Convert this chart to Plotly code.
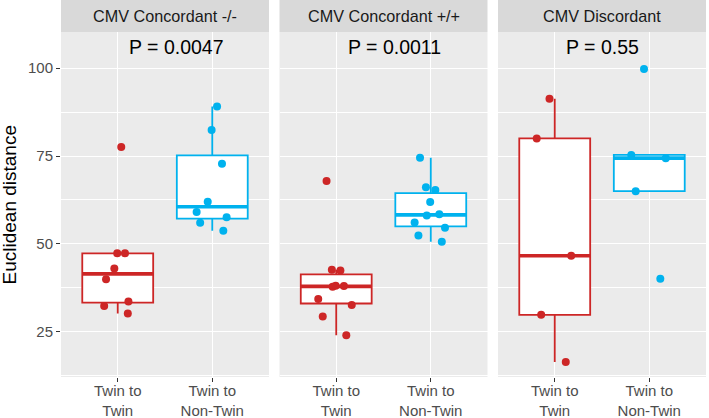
import numpy as np
import plotly.graph_objects as go
from plotly.subplots import make_subplots

# ---- data ----
panels = ["CMV Concordant -/-", "CMV Concordant +/+", "CMV Discordant"]
groups = ["Twin to<br>Twin", "Twin to<br>Non-Twin"]
p_labels = ["P = 0.0047", "P = 0.0011", "P = 0.55"]

neg_twin = [77.6, 47.3, 47.3, 43.0, 39.9, 33.6, 32.3, 30.2]
neg_nontwin = [89.1, 82.4, 72.8, 62.0, 59.1, 57.6, 56.0, 53.7]
pos_twin = [67.9, 42.6, 42.4, 38.1, 37.8, 38.0, 34.3, 32.6, 29.3, 24.0]
pos_nontwin = [74.5, 66.1, 65.3, 61.9, 58.4, 58.1, 56.1, 54.6, 52.4, 50.6]
disc_twin = [91.3, 80.0, 46.6, 29.8, 16.4]
disc_nontwin = [99.8, 75.3, 74.4, 65.0, 40.1]

panel_data = [[neg_twin, neg_nontwin], [pos_twin, pos_nontwin], [disc_twin, disc_nontwin]]
group_colors = ["#CD2626", "#00B2EE"]

y_ticks = [25, 50, 75, 100]

FONT = "Liberation Sans, Arial, sans-serif"
W, H = 709, 418
ML, MR, MT, MB = 61, 3, 32, 41
plot_w = W - ML - MR
plot_h = H - MT - MB
gap_px = 10.5
panel_w = (plot_w - 2 * gap_px) / 3

fig = make_subplots(rows=1, cols=3, shared_yaxes=True,
                    horizontal_spacing=gap_px / plot_w)

BOX_W = 0.75


def box_stats(v):
    a = np.array(v, dtype=float)
    q1, med, q3 = np.percentile(a, [25, 50, 75])
    iqr = q3 - q1
    lf = a[a >= q1 - 1.5 * iqr].min()
    uf = a[a <= q3 + 1.5 * iqr].max()
    return q1, med, q3, lf, uf


for pi, pdata in enumerate(panel_data):
    col = pi + 1
    for gi, vals in enumerate(pdata):
        c = group_colors[gi]
        q1, med, q3, lf, uf = box_stats(vals)
        fig.add_trace(go.Box(
            x=[gi], q1=[q1], median=[med], q3=[q3], lowerfence=[lf], upperfence=[uf],
            width=BOX_W, whiskerwidth=0, boxpoints=False,
            fillcolor="white", line=dict(color=c, width=1.8),
            showlegend=False, hoverinfo="skip"), row=1, col=col)
        # thick median line (ggplot fatten)
        fig.add_trace(go.Scatter(
            x=[gi - BOX_W / 2, gi + BOX_W / 2], y=[med, med], mode="lines",
            line=dict(color=c, width=3.6), showlegend=False, hoverinfo="skip"),
            row=1, col=col)
        # jittered points
        fig.add_trace(go.Box(
            x=[gi] * len(vals), y=vals, boxpoints="all", jitter=0.6, pointpos=0,
            width=BOX_W, fillcolor="rgba(0,0,0,0)",
            line=dict(color="rgba(0,0,0,0)", width=0),
            marker=dict(color=c, size=8, line=dict(width=0)),
            showlegend=False, hoverinfo="y"), row=1, col=col)

for pi in range(3):
    xa = "xaxis" if pi == 0 else f"xaxis{pi+1}"
    ya = "yaxis" if pi == 0 else f"yaxis{pi+1}"
    x0 = pi * (panel_w + gap_px) / plot_w
    x1 = (pi * (panel_w + gap_px) + panel_w) / plot_w
    fig.layout[xa].update(
        domain=[x0, x1], range=[-0.6, 1.6], tickmode="array", tickvals=[0, 1],
        ticktext=groups, showgrid=True, gridcolor="white", gridwidth=1.1,
        zeroline=False, ticks="outside", ticklen=4, tickwidth=1.1, tickcolor="#333333",
        tickfont=dict(family=FONT, size=15, color="#4D4D4D"), showline=False,
        ticklabelstandoff=-4)
    fig.layout[ya].update(
        range=[12.1, 110.3], tickmode="array", tickvals=y_ticks,
        showgrid=True, gridcolor="white", gridwidth=1.1, zeroline=False,
        minor=dict(tickmode="array", tickvals=[12.5, 37.5, 62.5, 87.5],
                   showgrid=True, gridcolor="white", gridwidth=0.55, ticks=""),
        showline=False)
    if pi == 0:
        fig.layout[ya].update(ticks="outside", ticklen=4, tickwidth=1.1, tickcolor="#333333",
                              tickfont=dict(family=FONT, size=15, color="#4D4D4D"),
                              showticklabels=True)
    else:
        fig.layout[ya].update(ticks="", showticklabels=False)

    # strip background
    fig.add_shape(type="rect", xref="paper", yref="paper",
                  x0=x0, x1=x1, y0=1.0, y1=1 + MT / plot_h,
                  fillcolor="#D9D9D9", line=dict(width=0), layer="below")
    fig.add_annotation(xref="paper", yref="paper", x=(x0 + x1) / 2,
                       y=1 + (MT / 2) / plot_h, text=panels[pi], showarrow=False,
                       xanchor="center", yanchor="middle",
                       font=dict(family=FONT, size=16.2, color="#1A1A1A"))
    # p-value label
    xr = "x" if pi == 0 else f"x{pi+1}"
    yr = "y" if pi == 0 else f"y{pi+1}"
    fig.add_annotation(xref=xr, yref=yr, x=0.1, y=106, text=p_labels[pi],
                       showarrow=False, xanchor="left", yanchor="middle",
                       font=dict(family=FONT, size=19.5, color="black"))

# y-axis title
fig.add_annotation(xref="paper", yref="paper", x=(9 - ML) / plot_w, y=0.5,
                   text="Euclidean distance", textangle=-90, showarrow=False,
                   xanchor="center", yanchor="middle",
                   font=dict(family=FONT, size=19, color="black"))

fig.update_layout(
    width=W, height=H, margin=dict(l=ML, r=MR, t=MT, b=MB, autoexpand=False),
    plot_bgcolor="#EBEBEB", paper_bgcolor="white", boxmode="overlay",
    showlegend=False, font=dict(family=FONT))

fig.write_html("out.html", config={"displayModeBar": False},
               post_script="document.body.style.margin='0';document.body.style.padding='0';")
